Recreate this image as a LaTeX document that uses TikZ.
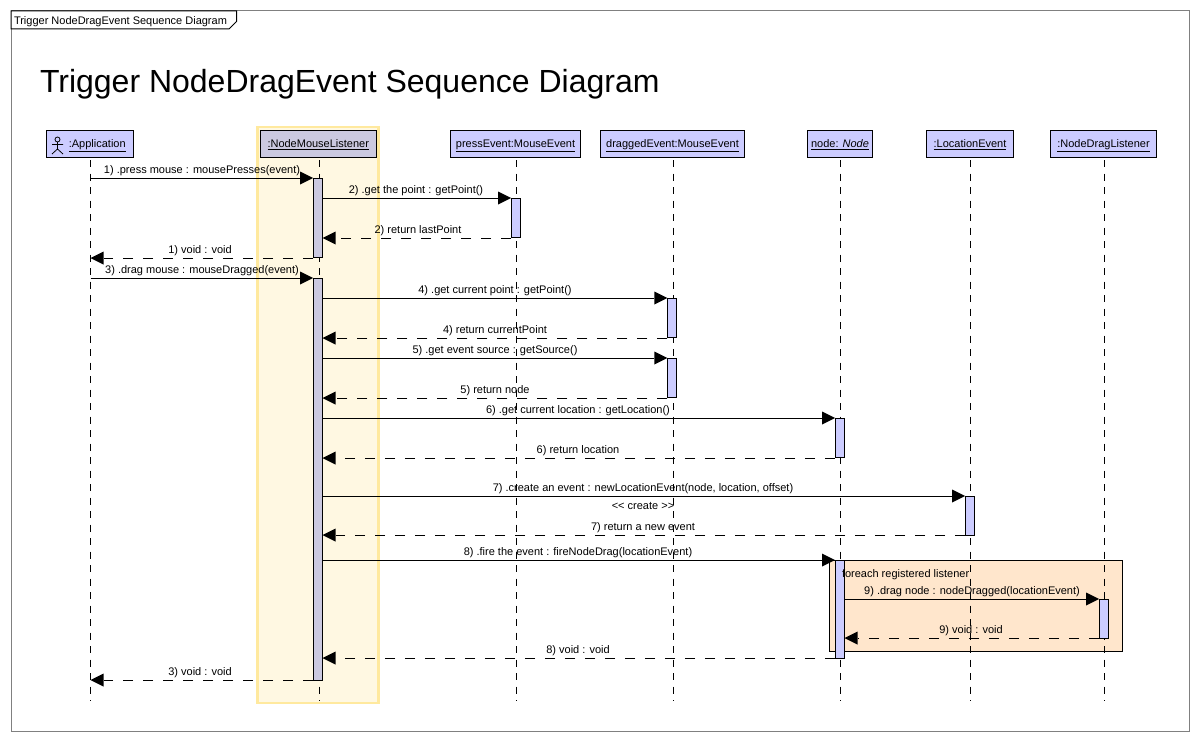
\documentclass[tikz,border=0pt]{standalone}
\usepackage{fontspec}
\setmainfont{Liberation Sans}
\usetikzlibrary{arrows.meta}
\definecolor{headblue}{HTML}{CCCCFF}
\definecolor{headgrey}{HTML}{CBC9E0}
\definecolor{hlfill}{HTML}{FFF8E2}
\definecolor{hledge}{HTML}{FFE99E}
\definecolor{loopfill}{HTML}{FFE6CC}
\definecolor{framegrey}{HTML}{808080}
\tikzset{
  every node/.style={font=\fontsize{11}{13}\selectfont, inner sep=0pt, outer sep=0pt},
  head/.style={draw=black, line width=1pt, fill=headblue, minimum height=27pt, text depth=0pt, font=\fontsize{11}{13}\selectfont},
  act/.style={draw=black, line width=1pt, fill=headblue, minimum width=9.5pt, anchor=north},
  lifeline/.style={black, line width=1pt, dash pattern=on 7pt off 6.5pt},
  call/.style={black, line width=1pt, -{Triangle[length=13pt,width=13pt,line width=0pt]}},
  ret/.style={black, line width=1pt, dash pattern=on 10pt off 10pt, -{Triangle[length=13pt,width=13pt,line width=0pt]}},
  msgtext/.style={anchor=base},
}
\newcommand{\msg}[6]{%
  \draw[#1] (#2 |- 0,#4) -- (#3 |- 0,#4);
  \node[msgtext] (lab#4) at (#5,#4-5) {#6};
}
\newcommand{\lifehead}[5]{% name, left, right, style extras, text
  \node[head, minimum width={#3-#2}, #4] (#1) at ({(#2+#3)/2},143.5) {#5};
}
\begin{document}
\begin{tikzpicture}[x=1pt,y=-1pt]
\useasboundingbox (0,0) rectangle (1198,741);
\fill[white] (0,0) rectangle (1198,741);
% frame
\node[draw=framegrey, line width=1pt, minimum width=1178pt, minimum height=720pt, anchor=north west] (frame) at (11,11) {};
\draw[black, fill=white, line width=1pt] (11,11) -- (236.5,11) -- (236.5,21.5) -- (229,29) -- (11,29) -- cycle;
\node[anchor=base west, font=\fontsize{11}{13}\selectfont] (tab) at (14,25) {Trigger NodeDragEvent Sequence Diagram};
\node[anchor=base west, font=\fontsize{32}{36}\selectfont] (title) at (40,93) {Trigger NodeDragEvent Sequence Diagram};
% highlight
\node[draw=hledge, fill=hlfill, line width=2.5pt, minimum width=121pt, minimum height=576pt, anchor=north west] (hl) at (257.5,127) {};
% loop box
\node[draw=black, fill=loopfill, line width=1pt, minimum width=293.5pt, minimum height=91.5pt, anchor=north west] (loop) at (829,560) {};
% heads
\lifehead{app}{46}{133.5}{}{\hspace*{15pt}\underline{:Application}}
\lifehead{nml}{260}{376.5}{fill=headgrey}{\underline{:NodeMouseListener}}
\lifehead{press}{450.5}{580.5}{}{\underline{pressEvent:MouseEvent}}
\lifehead{drag}{600.5}{744.5}{}{\underline{draggedEvent:MouseEvent}}
\lifehead{nod}{807.5}{872.5}{}{\underline{node: \textit{Node}}}
\lifehead{loc}{926.5}{1013.5}{}{\underline{:LocationEvent}}
\lifehead{ndl}{1050.5}{1156.5}{}{\underline{:NodeDragListener}}
% actor icon
\draw[black, line width=.8pt] (57.5,139.5) circle (2.5);
\draw[black, line width=.8pt] (57.5,142) -- (57.5,149) (52,144.5) -- (63,144.5) (52,154) -- (57.5,149) -- (63,154);
% lifelines
\coordinate (Lapp) at (90.5,701);
\coordinate (Lnml) at (319.5,701);
\coordinate (Lpress) at (516.5,701);
\coordinate (Ldrag) at (673.5,701);
\coordinate (Lnod) at (840.5,701);
\coordinate (Lloc) at (970.5,701);
\coordinate (Lndl) at (1104.5,701);
\foreach \n/\h in {Lapp/app,Lnml/nml,Lpress/press,Ldrag/drag,Lnod/nod,Lloc/loc,Lndl/ndl}
  \draw[lifeline] (\n |- \h.south) ++(0,3) -- (\n);
% activations
\node[act, fill=headgrey, minimum height=79.5pt] (a1) at (317.75,178) {};
\node[act, fill=headgrey, minimum height=402pt] (a2) at (317.75,278) {};
\node[act, minimum height=39.5pt] (b1) at (515.75,198) {};
\node[act, minimum height=39.5pt] (c1) at (672,298) {};
\node[act, minimum height=39.5pt] (c2) at (672,358) {};
\node[act, minimum height=39.5pt] (d1) at (839.75,418) {};
\node[act, minimum height=98pt] (d2) at (839.75,560) {};
\node[act, minimum height=39.5pt] (e1) at (969.75,496) {};
\node[act, minimum height=39.5pt] (f1) at (1103.75,599) {};
\node[anchor=base west] (looptxt) at (842,577) {foreach registered listener};
% messages
\msg{call}{Lapp}{a1.west}{178}{202}{1) .press mouse : mousePresses(event)}
\msg{call}{a1.east}{b1.west}{198}{416}{2) .get the point : getPoint()}
\msg{ret}{b1.west}{a1.east}{238}{418}{2) return lastPoint}
\msg{ret}{a1.west}{Lapp}{258}{200}{1) void : void}
\msg{call}{Lapp}{a2.west}{278}{202}{3) .drag mouse : mouseDragged(event)}
\msg{call}{a2.east}{c1.west}{298}{495}{4) .get current point : getPoint()}
\msg{ret}{c1.west}{a2.east}{338}{495}{4) return currentPoint}
\msg{call}{a2.east}{c2.west}{358}{495}{5) .get event source : getSource()}
\msg{ret}{c2.west}{a2.east}{398}{495}{5) return node}
\msg{call}{a2.east}{d1.west}{418}{578}{6) .get current location : getLocation()}
\msg{ret}{d1.west}{a2.east}{458}{578}{6) return location}
\msg{call}{a2.east}{e1.west}{496}{643}{7) .create an event : newLocationEvent(node, location, offset)}
\node[anchor=base] (create) at (643,509) {{<}{<} create {>}{>}};
\msg{ret}{e1.west}{a2.east}{535}{643}{7) return a new event}
\msg{call}{a2.east}{d2.west}{560}{578}{8) .fire the event : fireNodeDrag(locationEvent)}
\msg{call}{d2.east}{f1.west}{599}{972}{9) .drag node : nodeDragged(locationEvent)}
\msg{ret}{f1.west}{d2.east}{638}{971}{9) void : void}
\msg{ret}{d2.west}{a2.east}{658}{578}{8) void : void}
\msg{ret}{a2.west}{Lapp}{680}{200}{3) void : void}
\end{tikzpicture}
\end{document}
